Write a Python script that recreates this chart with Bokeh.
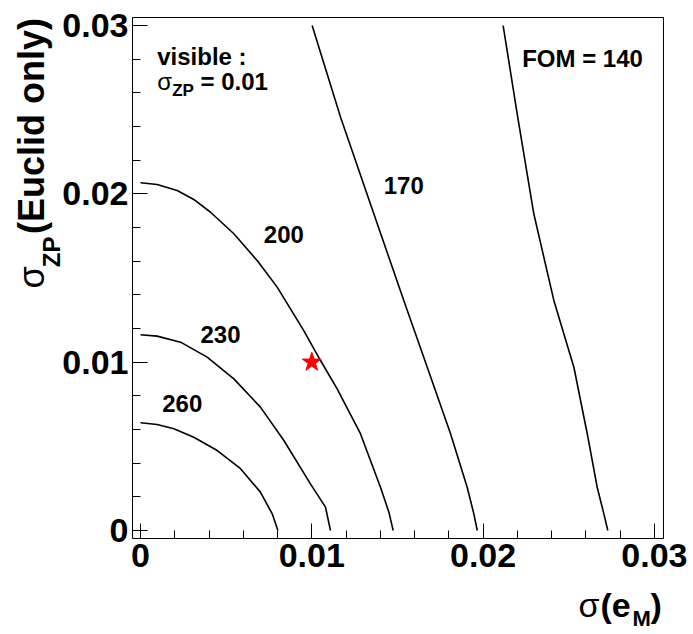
import numpy as np
from bokeh.plotting import figure
from bokeh.models import FixedTicker, Label, Range1d
from bokeh.embed import file_html
from bokeh.resources import INLINE

# ---- data ----
major_ticks = [0.0, 0.01, 0.02, 0.03]
tick_labels = ["0", "0.01", "0.02", "0.03"]

c260_x = [0.0, 0.00097, 0.00195, 0.00311, 0.00448, 0.00584, 0.00700, 0.00769, 0.00802]
c260_y = [0.0064, 0.0063, 0.00604, 0.00554, 0.00475, 0.00367, 0.00228, 0.00099, 0.0]

c230_x = [0.0, 0.00097, 0.00234, 0.00389, 0.00545, 0.00700, 0.00837, 0.00992, 0.01080, 0.01109]
c230_y = [0.01163, 0.01155, 0.01119, 0.01030, 0.00901, 0.00733, 0.00535, 0.00277, 0.00139, 0.0]

c200_x = [0.0, 0.00097, 0.00214, 0.00311, 0.00409, 0.00545, 0.00681, 0.00798, 0.00953,
          0.01051, 0.01148, 0.01284, 0.01401, 0.01450, 0.01475]
c200_y = [0.02066, 0.02056, 0.02020, 0.01967, 0.01891, 0.01763, 0.01604, 0.01446, 0.01188,
          0.01010, 0.00842, 0.00575, 0.00257, 0.00109, 0.0]

c170_x = [0.01002, 0.01168, 0.01362, 0.01537, 0.01674, 0.01810, 0.01907, 0.01946, 0.01966]
c170_y = [0.03000, 0.02456, 0.01882, 0.01367, 0.00970, 0.00575, 0.00257, 0.00099, 0.0]

c140_x = [0.02117, 0.02199, 0.02296, 0.02413, 0.02530, 0.02608, 0.02666, 0.02705, 0.02728]
c140_y = [0.03000, 0.02476, 0.01882, 0.01367, 0.00970, 0.00575, 0.00257, 0.00099, 0.0]

contour_labels = ["260", "230", "200", "170", "FOM = 140"]
label_x = [0.00127, 0.0035, 0.0072, 0.0142, 0.02228]
label_y = [0.00703, 0.01109, 0.01707, 0.01995, 0.02753]

star_x = [0.01]
star_y = [0.01]

# ---- layout constants ----
FONT = "Liberation Sans"
W, H = 690, 632
PX_X = 17130.0   # pixels per data unit (x)
PX_Y = 16830.0   # pixels per data unit (y)
X0_PX, Y0_PX = 140.0, 530.0   # canvas position of the data origin
FRAME_L, FRAME_R = -0.000467, 0.030531
FRAME_B, FRAME_T = -0.000475, 0.030481

p = figure(width=W, height=H, output_backend="svg", toolbar_location=None, title=None,
           x_range=Range1d(-X0_PX / PX_X, (W - X0_PX) / PX_X),
           y_range=Range1d((Y0_PX - H) / PX_Y, Y0_PX / PX_Y),
           min_border=0, min_border_left=0, min_border_right=0,
           min_border_top=0, min_border_bottom=0)
p.grid.visible = False
p.outline_line_color = None
p.background_fill_color = "white"
p.border_fill_color = "white"

# plot frame box
p.quad(left=[FRAME_L], right=[FRAME_R], bottom=[FRAME_B], top=[FRAME_T],
       fill_color=None, line_color="black", line_width=1)

minor = [round(v, 4) for v in np.arange(0, 0.0301, 0.002)]
for ax, standoff, loc in ((p.xaxis[0], 6, FRAME_B), (p.yaxis[0], 4, FRAME_L)):
    ax.fixed_location = loc
    ax.ticker = FixedTicker(ticks=major_ticks, minor_ticks=minor)
    ax.major_label_overrides = dict(zip(major_ticks, tick_labels))
    ax.major_tick_in = 15
    ax.major_tick_out = 0
    ax.minor_tick_in = 8
    ax.minor_tick_out = 0
    ax.major_tick_line_color = "black"
    ax.minor_tick_line_color = "black"
    ax.axis_line_color = None
    ax.major_label_text_font = FONT
    ax.major_label_text_font_style = "bold"
    ax.major_label_text_font_size = "34px"
    ax.major_label_text_color = "black"
    ax.major_label_standoff = standoff

for xs, ys in ((c260_x, c260_y), (c230_x, c230_y), (c200_x, c200_y),
               (c170_x, c170_y), (c140_x, c140_y)):
    p.line(xs, ys, line_color="black", line_width=1.6)

p.scatter(star_x, star_y, marker="star", size=20, fill_color="red", line_color="red")


def lab(px, py, text, size, bold=True, angle=0.0, dx=0.0, dy=0.0):
    """Place text with its baseline start at canvas pixel (px, py)."""
    corr = 0.375 * size
    if angle == 0.0:
        dy += corr
    else:
        dx -= corr
    p.add_layout(Label(x=(px - X0_PX) / PX_X, y=(Y0_PX - py) / PX_Y,
                       x_offset=dx, y_offset=dy, text=text, angle=angle,
                       text_font=FONT, text_font_style="bold" if bold else "normal",
                       text_font_size=f"{size}px", text_color="black",
                       text_align="left", text_baseline="alphabetic"))


for t, x, y in zip(contour_labels, label_x, label_y):
    lab(X0_PX + x * PX_X, Y0_PX - y * PX_Y, t, 24)

# "visible :" and sigma_ZP = 0.01
lab(156.7, 65, "visible :", 24)
lab(156.7, 90, "σ", 24, bold=False)
lab(171.7, 96.5, "ZP", 17)
lab(200, 90, "= 0.01", 24)

# y axis title (rotated)
ang = np.pi / 2
lab(44, 288, "σ", 36, bold=False, angle=ang)
lab(60, 266.7, "ZP", 24, angle=ang)
lab(44, 233.5, "(Euclid only)", 36, angle=ang)

# x axis title
lab(578, 617, "σ", 34, bold=False)
lab(600, 617, "(e", 34)
lab(632, 626, "M", 22)
lab(650, 617, ")", 34)

open("out.html", "w").write(file_html(p, INLINE))
